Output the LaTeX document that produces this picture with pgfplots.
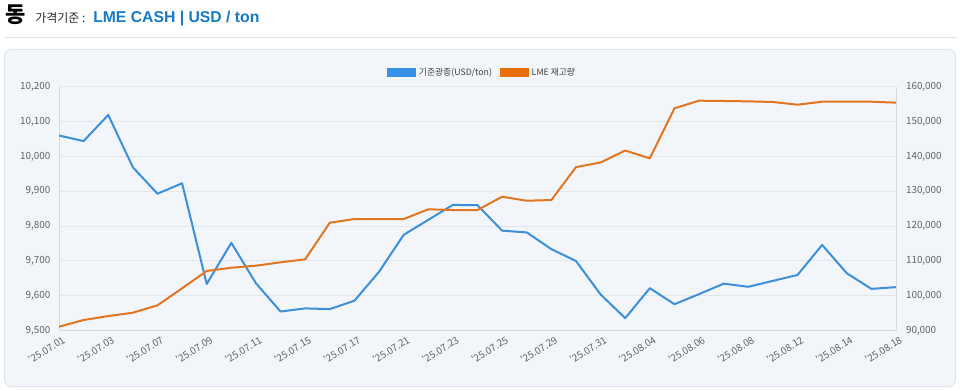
\documentclass[border=0pt]{standalone}
\usepackage{fontspec}
\setmainfont{Noto Sans CJK KR}
\newfontfamily\arialfont{Liberation Sans}
\usepackage{pgfplots}
\usepackage{pgfplotstable}
\pgfplotsset{compat=1.18}
\definecolor{cblue}{RGB}{62,143,218}
\definecolor{corange}{RGB}{226,118,32}
\definecolor{legblue}{RGB}{55,145,230}
\definecolor{legorange}{RGB}{232,112,10}
\definecolor{titleblue}{RGB}{22,122,196}
\definecolor{panelbg}{RGB}{242,246,250}
\definecolor{panelborder}{RGB}{224,229,235}
\definecolor{gridc}{RGB}{226,231,237}
\definecolor{axisc}{RGB}{214,219,226}
\definecolor{tickc}{RGB}{95,98,104}
\definecolor{sepline}{RGB}{224,226,230}

\pgfplotstableread{
x y
0 10060
1 10044
2 10119
3 9969
4 9893
5 9923
6 9634
7 9752
8 9636
9 9555
10 9564
11 9562
12 9586
13 9669
14 9775
15 9818
16 9861
17 9860
18 9787
19 9782
20 9734
21 9700
22 9604
23 9536
24 9622
25 9576
26 9605
27 9635
28 9626
29 9643
30 9660
31 9746
32 9665
33 9620
34 9625
}\pricedata

\pgfplotstableread{
x y
0 91150
1 93070
2 94200
3 95160
4 97280
5 102160
6 107130
7 108070
8 108650
9 109620
10 110480
11 120980
12 122040
13 122040
14 122020
15 124830
16 124620
17 124620
18 128440
19 127290
20 127490
21 136930
22 138260
23 141700
24 139460
25 153800
26 155990
27 155900
28 155800
29 155610
30 154840
31 155700
32 155700
33 155700
34 155420
}\stockdata

\pgfplotsset{
  common/.style={
    scale only axis,
    width=627.75pt, height=183pt,
    xmin=0, xmax=34,
    major tick length=0pt,
    axis line style={draw=axisc, line width=0.75pt},
    tick label style={font=\fontsize{7.4}{9}\selectfont, text=tickc},
    /pgf/number format/fixed,
    /pgf/number format/precision=0,
    /pgf/number format/1000 sep={,},
    /pgf/number format/assume math mode=true,
    scaled y ticks=false,
  }
}

\begin{document}
\begin{tikzpicture}
\useasboundingbox (0pt,0pt) rectangle (720pt,292.5pt);
% title
\node[anchor=base west, inner sep=0pt, font=\bfseries\fontsize{16.5}{18}\selectfont] at (3.75pt,275.25pt) {동};
\node[anchor=base west, inner sep=0pt, font=\fontsize{9}{10}\selectfont, text=black!85] at (26.25pt,275.25pt) {가격기준 :};
\node[anchor=base west, inner sep=0pt, font=\arialfont\bfseries\fontsize{11.8}{13}\selectfont, text=titleblue] at (69.75pt,275.25pt) {LME CASH | USD / ton};
\draw[sepline, line width=0.75pt] (3pt,264.2pt) -- (717.75pt,264.2pt);
% panel
\draw[fill=panelbg, draw=panelborder, line width=0.75pt, rounded corners=5pt] (3.4pt,2.6pt) rectangle (716.6pt,255.4pt);

\begin{axis}[common,
  at={(44.25pt,44.475pt)}, anchor=south west,
  ymin=9500, ymax=10200,
  ytick={9500,9600,...,10200},
  axis x line*=bottom, axis y line*=left,
  ymajorgrids, grid style={draw=gridc, line width=0.75pt},
  xtick={0,2,...,34},
  xticklabels={'25.07.01,'25.07.03,'25.07.07,'25.07.09,'25.07.11,'25.07.15,'25.07.17,'25.07.21,'25.07.23,'25.07.25,'25.07.29,'25.07.31,'25.08.04,'25.08.06,'25.08.08,'25.08.12,'25.08.14,'25.08.18},
  xticklabel style={rotate=32, anchor=north east, inner sep=1pt, xshift=1pt, yshift=-3pt},
  yticklabel style={anchor=east, xshift=-3pt},
  legend style={at={(rel axis cs:0.506,1)}, anchor=south, yshift=3pt, draw=none, fill=none,
    font=\fontsize{6.6}{8}\selectfont, text=black!75, legend columns=2,
    /tikz/every even column/.append style={column sep=4pt}},
  legend image code/.code={\fill[#1] (0pt,-3.4pt) rectangle (21.75pt,3.4pt);},
]
\addplot[cblue, line width=1.5pt, line join=round, forget plot] table[x=x,y=y] {\pricedata};
\addlegendimage{fill=legblue, draw=none}
\addlegendentry{기준광종(USD/ton)}
\addlegendimage{fill=legorange, draw=none}
\addlegendentry{LME 재고량}
\end{axis}

\begin{axis}[common,
  at={(44.25pt,44.475pt)}, anchor=south west,
  ymin=90000, ymax=160000,
  ytick={90000,100000,...,160000},
  axis y line*=right, axis x line=none,
  yticklabel style={anchor=west, xshift=4pt},
]
\addplot[corange, line width=1.5pt, line join=round] table[x=x,y=y] {\stockdata};
\end{axis}
\end{tikzpicture}
\end{document}
